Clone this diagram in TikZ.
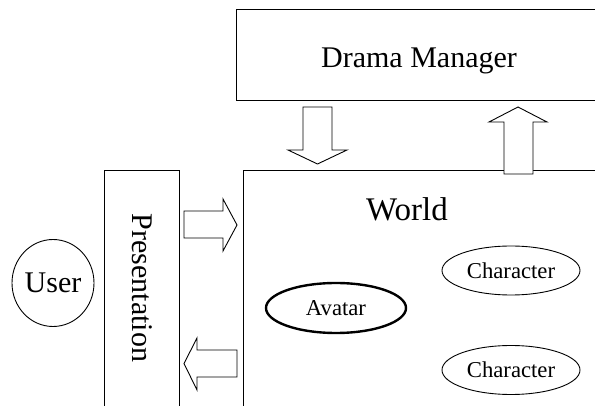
\documentclass[tikz,border=0pt]{standalone}
\usepackage{fontspec}
\setmainfont{Liberation Serif}
\usetikzlibrary{shapes.geometric}
\begin{document}
\begin{tikzpicture}[x=1pt,y=-1pt,
  thinline/.style={draw=black,line width=0.9pt},
  bigtext/.style={font=\fontsize{30}{36}\selectfont,inner sep=0pt},
  oval/.style={draw=black,ellipse,line width=0.9pt,minimum width=138pt,minimum height=49pt,inner sep=0pt,font=\fontsize{22.7}{27}\selectfont},
  blockarrow/.style={draw=black,line width=0.9pt,fill=white,line join=miter}]
\useasboundingbox (0,0) rectangle (595,406);
\fill[white] (0,0) rectangle (595,406);
% Drama Manager box (open on the right)
\draw[thinline] (596,9) -- (236,9) -- (236,100) -- (596,100);
\node[bigtext,anchor=base] (dm) at (419,68) {Drama Manager};
% World box
\draw[thinline] (243,407) -- (243,170) -- (596,170);
\node[bigtext,anchor=base,font=\fontsize{33}{38}\selectfont] (world) at (407,221) {World};
% Presentation box
\draw[thinline] (104,407) -- (104,170) -- (179,170) -- (179,407);
\node[bigtext,rotate=-90] (pres) at (142,288) {Presentation};
% User
\node[draw=black,ellipse,line width=0.9pt,minimum width=82pt,minimum height=87pt,inner sep=0pt,bigtext] (user) at (53,283) {User};
% Ellipses in world
\node[oval] (char1) at (511,270.5) {Character};
\node[oval,line width=2.4pt,minimum width=140pt,minimum height=50pt] (avatar) at (336,308) {Avatar};
\node[oval] (char2) at (511,370) {Character};
% Down arrow (Drama Manager -> World)
\draw[blockarrow] (303,107) -- (332,107) -- (332,150) -- (347,150) -- (317.5,164) -- (288,150) -- (303,150) -- cycle;
% Up arrow (World -> Drama Manager)
\draw[blockarrow] (504,174) -- (533,174) -- (533,122) -- (547,122) -- (518,107) -- (489,122) -- (504,122) -- cycle;
% Right arrow (Presentation -> World)
\draw[blockarrow] (184,211) -- (223,211) -- (223,199) -- (237,225) -- (223,251) -- (223,238) -- (184,238) -- cycle;
% Left arrow (World -> Presentation)
\draw[blockarrow] (237,350) -- (197,350) -- (197,338) -- (184,363.5) -- (197,390) -- (197,377) -- (237,377) -- cycle;
\end{tikzpicture}
\end{document}
